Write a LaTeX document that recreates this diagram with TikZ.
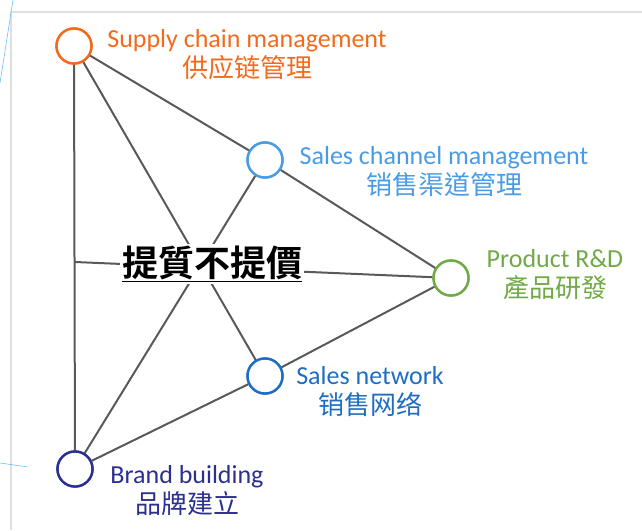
\documentclass[tikz,border=0pt]{standalone}
\usepackage{fontspec}
\setmainfont{Carlito}
\newfontfamily\cjk{Noto Sans CJK TC}
\newfontfamily\cjkb{Noto Sans CJK TC}[BoldFont={* Bold}]
\definecolor{supc}{HTML}{F26B1D}
\definecolor{chac}{HTML}{4A9BE6}
\definecolor{proc}{HTML}{6FAA46}
\definecolor{netc}{HTML}{1F6DC2}
\definecolor{brac}{HTML}{2B2F8F}
\definecolor{edgec}{HTML}{595959}
\begin{document}
\begin{tikzpicture}[x=1pt,y=-1pt,
  hub/.style={circle,draw,line width=2.4pt,fill=white,minimum size=35pt,inner sep=0pt},
  lbl/.style={align=center,inner sep=0pt,font=\fontsize{26}{30}\selectfont},
  edge/.style={draw=edgec,line width=2pt}]
\useasboundingbox (0,0) rectangle (642,530);
% faint slide frame
\draw[gray!25,line width=1.5pt] (10,12) -- (642,12);
\draw[gray!25,line width=1.5pt] (11,12) -- (11,530);
\draw[blue!40!cyan!60,line width=0.6pt] (13,0) -- (0,83);
\draw[blue!40!cyan!60,line width=0.6pt] (0,463) -- (28,467);
% nodes
\node[hub,draw=supc] (sup) at (74,46) {};
\node[hub,draw=chac] (cha) at (265,160) {};
\node[hub,draw=proc] (pro) at (451,278) {};
\node[hub,draw=netc] (net) at (265,376) {};
\node[hub,draw=brac] (bra) at (75,469) {};
\coordinate (jn) at (75,262);
% edges
\path[edge] (sup) -- (bra);
\path[edge] (sup) -- (cha);
\path[edge] (sup) -- (net);
\path[edge] (bra) -- (cha);
\path[edge] (bra) -- (net);
\path[edge] (cha) -- (pro);
\path[edge] (net) -- (pro);
\path[edge] (jn) -- (pro);
% redraw circles on top
\node[hub,draw=supc] at (74,46) {};
\node[hub,draw=chac] at (265,160) {};
\node[hub,draw=proc] at (451,278) {};
\node[hub,draw=netc] at (265,376) {};
\node[hub,draw=brac] at (75,469) {};
% centre text
\node[fill=white,inner sep=2pt] (ctr) at (212,264) {\cjkb\bfseries\fontsize{36}{40}\selectfont\underline{提質不提價}};
% labels
\node[lbl,text=supc] (tsup) at (247,55) {Supply chain management\\{\cjk 供应链管理}};
\node[lbl,text=chac] (tcha) at (444,172) {Sales channel management\\{\cjk 销售渠道管理}};
\node[lbl,text=proc] (tpro) at (555,275) {Product R\&D\\{\cjk 產品研發}};
\node[lbl,text=netc] (tnet) at (370,392) {Sales network\\{\cjk 销售网络}};
\node[lbl,text=brac] (tbra) at (187,491) {Brand building\\{\cjk 品牌建立}};
\end{tikzpicture}
\end{document}
